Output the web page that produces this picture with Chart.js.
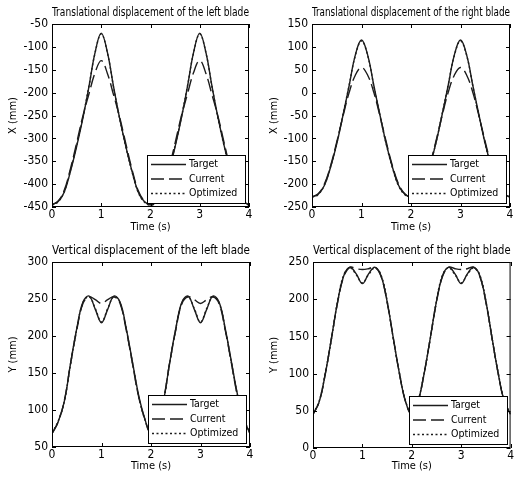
<!DOCTYPE html>
<html>
<head>
<meta charset="utf-8">
<title>Blade displacement</title>
<script src="https://cdn.jsdelivr.net/npm/chart.js@4.4.1/dist/chart.umd.min.js"></script>
<style>
  body { margin: 0; background: #fff; }
  #wrap { position: relative; width: 515px; height: 478px; overflow: hidden; background: #fff; }
  canvas { position: absolute; }
</style>
</head>
<body>
<div id="wrap">
  <canvas id="leftX" width="257" height="238" style="left:0;top:0"></canvas>
  <canvas id="rightX" width="258" height="238" style="left:257px;top:0"></canvas>
  <canvas id="leftY" width="257" height="240" style="left:0;top:238px"></canvas>
  <canvas id="rightY" width="258" height="240" style="left:257px;top:238px"></canvas>
</div>
<script>
// time samples (s), shared by all four panels
const timeS = [0, 0.125, 0.25, 0.375, 0.5, 0.625, 0.75, 0.875, 1, 1.125, 1.25, 1.375, 1.5, 1.625, 1.75, 1.875,
  2, 2.125, 2.25, 2.375, 2.5, 2.625, 2.75, 2.875, 3, 3.125, 3.25, 3.375, 3.5, 3.625, 3.75, 3.875, 4];
const xTicks = [0, 1, 2, 3, 4];
const seriesNames = ['Target', 'Current', 'Optimized'];

// translational displacement of the left blade, X (mm)
const leftXTarget = [-445, -438, -417, -372, -318, -257, -187, -112, -70, -112, -187, -257, -318, -372, -417, -438,
  -445, -438, -417, -372, -318, -257, -187, -112, -70, -112, -187, -257, -318, -372, -417, -438, -445];
const leftXCurrent = [-445, -437, -413, -366, -310, -252, -203, -156, -130, -158, -205, -254, -312, -368, -414, -437,
  -445, -437, -413, -366, -310, -252, -203, -156, -130, -158, -205, -254, -312, -368, -414, -437, -445];
const leftXOptimized = [-446, -439, -416, -370, -316, -255, -186, -113, -72, -113, -188, -258, -319, -373, -418, -439,
  -446, -439, -416, -370, -316, -255, -186, -113, -72, -113, -188, -258, -319, -373, -418, -439, -446];

// translational displacement of the right blade, X (mm)
const rightXTarget = [-228, -222, -203, -163, -112, -50, 15, 82, 115, 82, 15, -50, -112, -163, -203, -222,
  -228, -222, -203, -163, -112, -50, 15, 82, 115, 82, 15, -50, -112, -163, -203, -222, -228];
const rightXCurrent = [-228, -221, -200, -160, -108, -52, 0, 38, 55, 38, 0, -52, -108, -160, -200, -221,
  -228, -221, -200, -160, -108, -52, 0, 38, 55, 38, 0, -52, -108, -160, -200, -221, -228];
const rightXOptimized = [-229, -223, -202, -162, -111, -49, 16, 81, 113, 81, 14, -51, -113, -164, -204, -223,
  -229, -223, -202, -162, -111, -49, 16, 81, 113, 81, 14, -51, -113, -164, -204, -223, -229];

// vertical displacement of the left blade, Y (mm)
const leftYTarget = [68, 84, 112, 163, 210, 246, 254, 236, 218, 236, 254, 246, 210, 165, 120, 88,
  68, 84, 112, 163, 210, 246, 254, 236, 218, 236, 254, 246, 210, 165, 120, 88, 68];
const leftYCurrent = [68, 84, 113, 163, 208, 244, 253, 249, 244, 249, 253, 244, 208, 163, 118, 88,
  68, 84, 113, 163, 208, 244, 253, 249, 244, 249, 253, 244, 208, 163, 118, 88, 68];
const leftYOptimized = [69, 85, 112, 162, 209, 245, 253, 237, 219, 237, 253, 245, 209, 164, 119, 87,
  69, 85, 112, 162, 209, 245, 253, 237, 219, 237, 253, 245, 209, 164, 119, 87, 69];

// vertical displacement of the right blade, Y (mm)
const rightYTarget = [45, 62, 100, 148, 197, 232, 243, 234, 221, 234, 243, 232, 197, 148, 100, 62,
  45, 62, 100, 148, 197, 232, 243, 234, 221, 234, 243, 232, 197, 148, 100, 62, 45];
const rightYCurrent = [45, 62, 100, 148, 196, 231, 243, 241, 240, 241, 243, 231, 196, 148, 100, 62,
  45, 62, 100, 148, 196, 231, 243, 241, 240, 241, 243, 231, 196, 148, 100, 62, 45];
const rightYOptimized = [46, 63, 101, 147, 198, 233, 242, 233, 222, 233, 242, 233, 198, 147, 101, 63,
  46, 63, 101, 147, 198, 233, 242, 233, 222, 233, 242, 233, 198, 147, 101, 63, 46];

const FONT = "'Liberation Sans Narrow', 'Arial Narrow', 'DejaVu Sans Condensed', Arial, sans-serif";
const INK = '#1c1c1c';

Chart.defaults.font.family = FONT;
Chart.defaults.color = '#000';

// box around the plot area with inward ticks (matlab style)
const axesFrame = {
  id: 'axesFrame',
  afterDatasetsDraw(chart) {
    const { ctx, chartArea: a, scales } = chart;
    ctx.save();
    ctx.strokeStyle = '#000';
    ctx.lineWidth = 1;
    ctx.strokeRect(a.left + 0.5, a.top + 0.5, a.right - a.left - 1, a.bottom - a.top - 1);
    ctx.beginPath();
    scales.x.ticks.forEach(t => {
      const px = Math.round(scales.x.getPixelForValue(t.value)) + 0.5;
      ctx.moveTo(px, a.bottom); ctx.lineTo(px, a.bottom - 4);
      ctx.moveTo(px, a.top); ctx.lineTo(px, a.top + 4);
    });
    scales.y.ticks.forEach(t => {
      const py = Math.round(scales.y.getPixelForValue(t.value)) + 0.5;
      ctx.moveTo(a.left, py); ctx.lineTo(a.left + 4, py);
      ctx.moveTo(a.right, py); ctx.lineTo(a.right - 4, py);
    });
    ctx.stroke();
    ctx.restore();
  }
};

// legend box in the lower right corner of the plot area
const cornerLegend = {
  id: 'cornerLegend',
  afterDatasetsDraw(chart) {
    const { ctx, chartArea: a } = chart;
    const w = 98, h = 48;
    const x = Math.round(a.right - w - 4), y = Math.round(a.bottom - h - 4);
    ctx.save();
    ctx.fillStyle = '#fff';
    ctx.fillRect(x, y, w, h);
    ctx.strokeStyle = '#000';
    ctx.lineWidth = 1;
    ctx.strokeRect(x + 0.5, y + 0.5, w, h);
    ctx.font = '10.5px ' + FONT;
    ctx.textBaseline = 'middle';
    chart.data.datasets.forEach((ds, i) => {
      const ly = y + 9.5 + i * 14.5;
      ctx.beginPath();
      ctx.setLineDash(ds.borderDash || []);
      ctx.strokeStyle = ds.borderColor;
      ctx.lineWidth = ds.borderWidth;
      ctx.moveTo(x + 4, ly);
      ctx.lineTo(x + 39, ly);
      ctx.stroke();
      ctx.setLineDash([]);
      ctx.fillStyle = '#000';
      ctx.fillText(ds.label, x + 42, ly);
    });
    ctx.restore();
  }
};

function toPoints(values) {
  return timeS.map((t, i) => ({ x: t, y: values[i] }));
}

function makeChart(id, p) {
  const dashes = [[], [13, 5], [2, 2.5]];
  const datasets = p.series.map((vals, i) => ({
    label: seriesNames[i],
    data: toPoints(vals),
    borderColor: INK,
    borderWidth: 1.4,
    borderDash: dashes[i],
    pointRadius: 0,
    tension: 0.4,
    fill: false
  }));

  return new Chart(document.getElementById(id), {
    type: 'line',
    data: { datasets: datasets },
    options: {
      responsive: false,
      animation: false,
      events: [],
      layout: { padding: { left: 0, right: p.padRight, top: 0, bottom: 0 } },
      plugins: {
        legend: { display: false },
        tooltip: { enabled: false },
        title: {
          display: true,
          text: p.title,
          fullSize: false,
          color: '#000',
          font: { size: 12.5, weight: 'normal' },
          padding: { top: 5, bottom: 4 }
        }
      },
      scales: {
        x: {
          type: 'linear',
          min: 0,
          max: 4,
          grid: { display: false, drawTicks: false },
          border: { display: false },
          afterBuildTicks: s => { s.ticks = xTicks.map(v => ({ value: v })); },
          ticks: { font: { size: 12 }, padding: 1, maxRotation: 0, autoSkip: false },
          title: { display: true, text: 'Time (s)', font: { size: 11 }, padding: { top: 0, bottom: p.xTitlePad } },
          afterFit: s => { s.height = p.xHeight; }
        },
        y: {
          min: p.yMin,
          max: p.yMax,
          grid: { display: false, drawTicks: false },
          border: { display: false },
          ticks: { stepSize: 50, font: { size: 12 }, padding: 4 },
          title: { display: true, text: p.yLabel, font: { size: 11 }, padding: { top: p.yTitlePad, bottom: 0 } },
          afterFit: s => { s.width = p.yWidth; }
        }
      }
    },
    plugins: [axesFrame, cornerLegend]
  });
}

makeChart('leftX', {
  title: 'Translational displacement of the left blade',
  yLabel: 'X (mm)', yMin: -450, yMax: -50,
  series: [leftXTarget, leftXCurrent, leftXOptimized],
  yWidth: 52, padRight: 8, xHeight: 31, xTitlePad: 4.4, yTitlePad: 6.4
});

makeChart('rightX', {
  title: 'Translational displacement of the right blade',
  yLabel: 'X (mm)', yMin: -250, yMax: 150,
  series: [rightXTarget, rightXCurrent, rightXOptimized],
  yWidth: 55, padRight: 5, xHeight: 31, xTitlePad: 4.4, yTitlePad: 10.4
});

makeChart('leftY', {
  title: 'Vertical displacement of the left blade',
  yLabel: 'Y (mm)', yMin: 50, yMax: 300,
  series: [leftYTarget, leftYCurrent, leftYOptimized],
  yWidth: 52, padRight: 7, xHeight: 31, xTitlePad: 5.4, yTitlePad: 6.4
});

makeChart('rightY', {
  title: 'Vertical displacement of the right blade',
  yLabel: 'Y (mm)', yMin: 0, yMax: 250,
  series: [rightYTarget, rightYCurrent, rightYOptimized],
  yWidth: 56, padRight: 3, xHeight: 30, xTitlePad: 5.4, yTitlePad: 10.4
});
</script>
</body>
</html>
